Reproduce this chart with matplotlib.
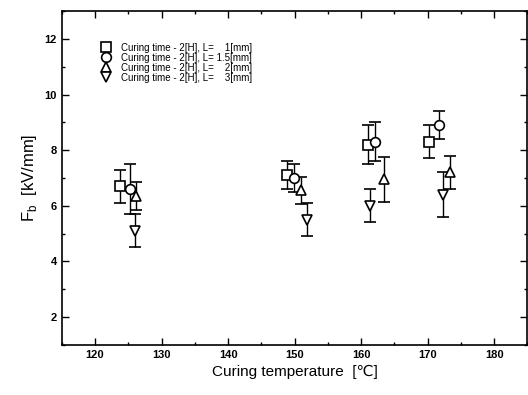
import matplotlib.pyplot as plt
from matplotlib.ticker import MultipleLocator
from matplotlib.lines import Line2D

plt.rcParams['font.family'] = ['Liberation Sans', 'DejaVu Sans']

# -----------------------------
# Data
# -----------------------------
labels = [
    "Curing time - 2[H], L=    1[mm]",
    "Curing time - 2[H], L= 1.5[mm]",
    "Curing time - 2[H], L=    2[mm]",
    "Curing time - 2[H], L=    3[mm]",
]
markers = ["s", "o", "^", "v"]

temp_1 = [123.8, 148.9, 161.1, 170.2]
fb_1 = [6.7, 7.1, 8.2, 8.3]
err_1 = [0.6, 0.5, 0.7, 0.6]

temp_15 = [125.2, 149.9, 162.1, 171.7]
fb_15 = [6.6, 7.0, 8.3, 8.9]
err_15 = [0.9, 0.5, 0.7, 0.5]

temp_2 = [126.2, 150.9, 163.4, 173.4]
fb_2 = [6.35, 6.55, 6.95, 7.2]
err_2 = [0.5, 0.5, 0.8, 0.6]

temp_3 = [126.0, 151.8, 161.4, 172.3]
fb_3 = [5.1, 5.5, 6.0, 6.4]
err_3 = [0.6, 0.6, 0.6, 0.8]

series = [
    (temp_1, fb_1, err_1),
    (temp_15, fb_15, err_15),
    (temp_2, fb_2, err_2),
    (temp_3, fb_3, err_3),
]

# -----------------------------
# Plot
# -----------------------------
fig = plt.figure(figsize=(5.28, 3.95), dpi=100)
ax = fig.add_axes([0.117, 0.127, 0.882, 0.845])

for (x, y, e), m in zip(series, markers):
    ax.errorbar(x, y, yerr=e, fmt=m, color="black", mfc="white", mec="black",
                ms=7, mew=1.2, ecolor="black", elinewidth=1.0, capsize=4.5,
                capthick=1.0)

ax.set_xlim(115, 185)
ax.set_ylim(1, 13)
ax.xaxis.set_minor_locator(MultipleLocator(5))
ax.yaxis.set_minor_locator(MultipleLocator(1))
ax.set_xticks(range(120, 181, 10))
ax.set_yticks(range(2, 13, 2))
ax.tick_params(which="both", direction="in", top=True, right=True,
               labelsize=8, width=1.0)
ax.tick_params(which="major", length=5)
ax.tick_params(which="minor", length=2.5)
for lbl in ax.get_xticklabels() + ax.get_yticklabels():
    lbl.set_fontweight("bold")
for s in ax.spines.values():
    s.set_linewidth(1.2)

ax.set_xlabel("Curing temperature  [℃]", fontsize=11)
ax.set_ylabel("F$_\\mathregular{b}$  [kV/mm]", fontsize=12, labelpad=4)

# legend shows markers only
handles = [Line2D([], [], ls="none", marker=m, ms=7, mfc="white",
                  mec="black", mew=1.2) for m in markers]
ax.legend(handles, labels, loc="upper left", bbox_to_anchor=(0.07, 0.925),
          frameon=False, fontsize=7, handletextpad=1.0, labelspacing=0.0,
          handlelength=1.0, borderpad=0.2)

plt.savefig("out.png", dpi=100)
plt.close()
